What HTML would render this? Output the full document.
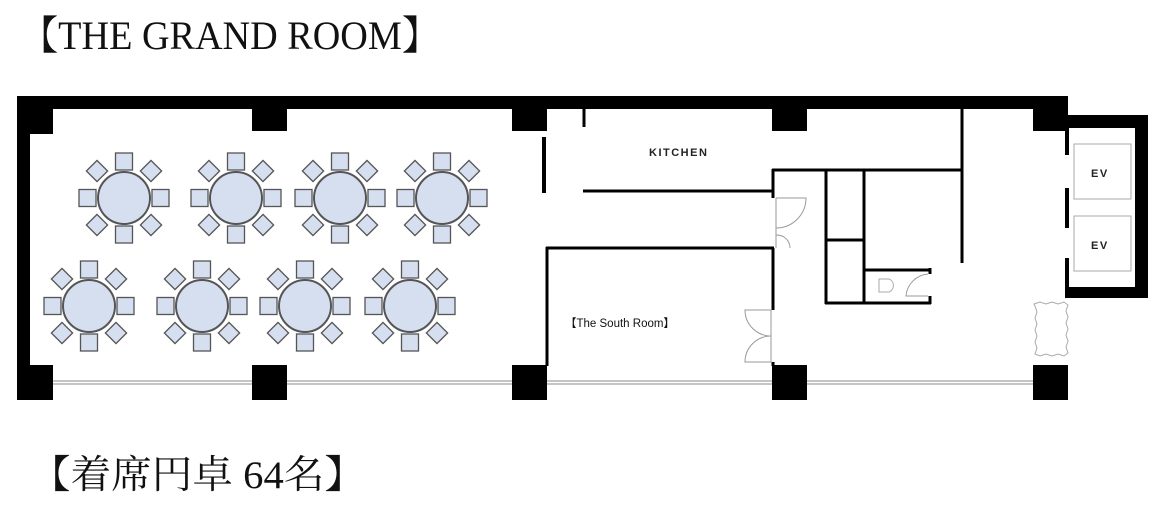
<!DOCTYPE html>
<html><head><meta charset="utf-8"><style>
body{margin:0;width:1162px;height:506px;background:#fff;overflow:hidden}
</style></head><body>
<svg width="1162" height="506" xmlns="http://www.w3.org/2000/svg">
<text x="20" y="49" font-family="Liberation Serif, 'Noto Serif CJK SC', serif" font-size="40" textLength="420" lengthAdjust="spacingAndGlyphs" fill="#111">【THE GRAND ROOM】</text>
<text x="30" y="488" font-family="Liberation Serif, 'Noto Serif CJK SC', serif" font-size="39" textLength="335" lengthAdjust="spacingAndGlyphs" fill="#111">【着席円卓 64名】</text>
<g fill="#000">
<rect x="17" y="96" width="1051" height="13"/>
<rect x="17" y="96" width="13" height="304"/>
<rect x="17" y="96" width="36" height="38"/>
<rect x="252" y="96" width="35" height="35"/>
<rect x="512" y="96" width="35" height="35"/>
<rect x="772" y="96" width="35" height="35"/>
<rect x="1033" y="96" width="35" height="35"/>
<rect x="17" y="365" width="36" height="35"/>
<rect x="252" y="365" width="35" height="35"/>
<rect x="512" y="365" width="35" height="35"/>
<rect x="772" y="365" width="35" height="35"/>
<rect x="1033" y="365" width="35" height="35"/>
<rect x="1065" y="115" width="83" height="13"/>
<rect x="1135" y="115" width="13" height="183"/>
<rect x="1065" y="287" width="83" height="11"/>
<rect x="1065" y="115" width="4" height="40"/>
<rect x="1065" y="188" width="4" height="40"/>
<rect x="1065" y="258" width="4" height="40"/>
</g>
<g stroke="#888" stroke-width="1" fill="none">
<line x1="53" y1="381" x2="252" y2="381"/><line x1="53" y1="384" x2="252" y2="384"/>
<line x1="287" y1="381" x2="512" y2="381"/><line x1="287" y1="384" x2="512" y2="384"/>
<line x1="547" y1="381" x2="772" y2="381"/><line x1="547" y1="384" x2="772" y2="384"/>
<line x1="807" y1="381" x2="1033" y2="381"/><line x1="807" y1="384" x2="1033" y2="384"/>
<rect x="1074" y="144" width="57" height="55" stroke="#aaa"/>
<rect x="1074" y="216" width="57" height="55" stroke="#aaa"/>
<path d="M1034 304 l6 -2 l6 2 l6 -2 l6 2 l6 -2 l4 3 l-2 6 l2 6 l-2 6 l2 6 l-2 6 l2 6 l-2 6 l2 6 l-4 3 l-6 -2 l-6 2 l-6 -2 l-6 2 l-5 -2 l2 -6 l-2 -6 l2 -6 l-2 -6 l2 -6 l-2 -6 l2 -6 l-2 -6 z" stroke="#aaa"/>
<path d="M776 198 L806 198 A30 30 0 0 1 776 228" stroke="#999"/>
<path d="M776 235 A13 13 0 0 1 790 248" stroke="#999"/>
<line x1="776" y1="198" x2="776" y2="248" stroke="#999"/>
<path d="M771 310 L745 310 A26 26 0 0 0 771 336" stroke="#999"/>
<path d="M771 362 L745 362 A26 26 0 0 1 771 336" stroke="#999"/>
<line x1="771" y1="310" x2="771" y2="362" stroke="#999"/>
<path d="M928 274 A24 24 0 0 0 906 296 L928 296" stroke="#999"/>
<path d="M879 279 h10 a7 7 0 0 1 0 13 h-10 z" stroke="#aaa"/>
</g>
<text x="649" y="156" font-family="Liberation Sans, sans-serif" font-size="11" font-weight="bold" letter-spacing="1.5" fill="#222">KITCHEN</text>
<text x="565" y="327" font-family="Liberation Sans, 'Noto Sans CJK JP', sans-serif" font-size="11.5" fill="#111">【The South Room】</text>
<text x="1091" y="177" font-family="Liberation Sans, sans-serif" font-size="11" font-weight="bold" letter-spacing="1.5" fill="#222">EV</text>
<text x="1091" y="249" font-family="Liberation Sans, sans-serif" font-size="11" font-weight="bold" letter-spacing="1.5" fill="#222">EV</text>
<g stroke="#000" stroke-width="3" fill="none">
<line x1="584" y1="109" x2="584" y2="127"/>
<line x1="544" y1="137" x2="544" y2="193" stroke-width="4"/>
<line x1="583" y1="191" x2="774" y2="191"/>
<line x1="773" y1="169" x2="773" y2="198"/>
<line x1="773" y1="248" x2="773" y2="310"/>
<line x1="773" y1="362" x2="773" y2="366"/>
<line x1="772" y1="170" x2="963" y2="170"/>
<line x1="962" y1="109" x2="962" y2="263"/>
<line x1="826" y1="170" x2="826" y2="304"/>
<line x1="864" y1="170" x2="864" y2="304"/>
<line x1="826" y1="240" x2="864" y2="240"/>
<line x1="825" y1="303" x2="931" y2="303"/>
<line x1="864" y1="270" x2="931" y2="270"/>
<line x1="930" y1="268" x2="930" y2="274"/>
<line x1="930" y1="296" x2="930" y2="304"/>
<line x1="546" y1="248" x2="774" y2="248"/>
<line x1="547" y1="247" x2="547" y2="366"/>
</g>
<defs>
<g id="t" fill="#d6dff0" stroke="#555" stroke-width="1.3">
<rect x="-8.5" y="-45" width="17" height="17"/>
<rect x="-8.5" y="28" width="17" height="17"/>
<rect x="-45" y="-8.5" width="17" height="17"/>
<rect x="28" y="-8.5" width="17" height="17"/>
<rect x="-7.5" y="-7.5" width="15" height="15" transform="translate(-27,-27) rotate(45)"/>
<rect x="-7.5" y="-7.5" width="15" height="15" transform="translate(27,-27) rotate(45)"/>
<rect x="-7.5" y="-7.5" width="15" height="15" transform="translate(-27,27) rotate(45)"/>
<rect x="-7.5" y="-7.5" width="15" height="15" transform="translate(27,27) rotate(45)"/>
<circle r="26" stroke-width="2"/>
</g>
</defs>
<use href="#t" x="124" y="198"/><use href="#t" x="236" y="198"/><use href="#t" x="340" y="198"/><use href="#t" x="442" y="198"/>
<use href="#t" x="89" y="306"/><use href="#t" x="202" y="306"/><use href="#t" x="305" y="306"/><use href="#t" x="410" y="306"/>
</svg>
</body></html>
